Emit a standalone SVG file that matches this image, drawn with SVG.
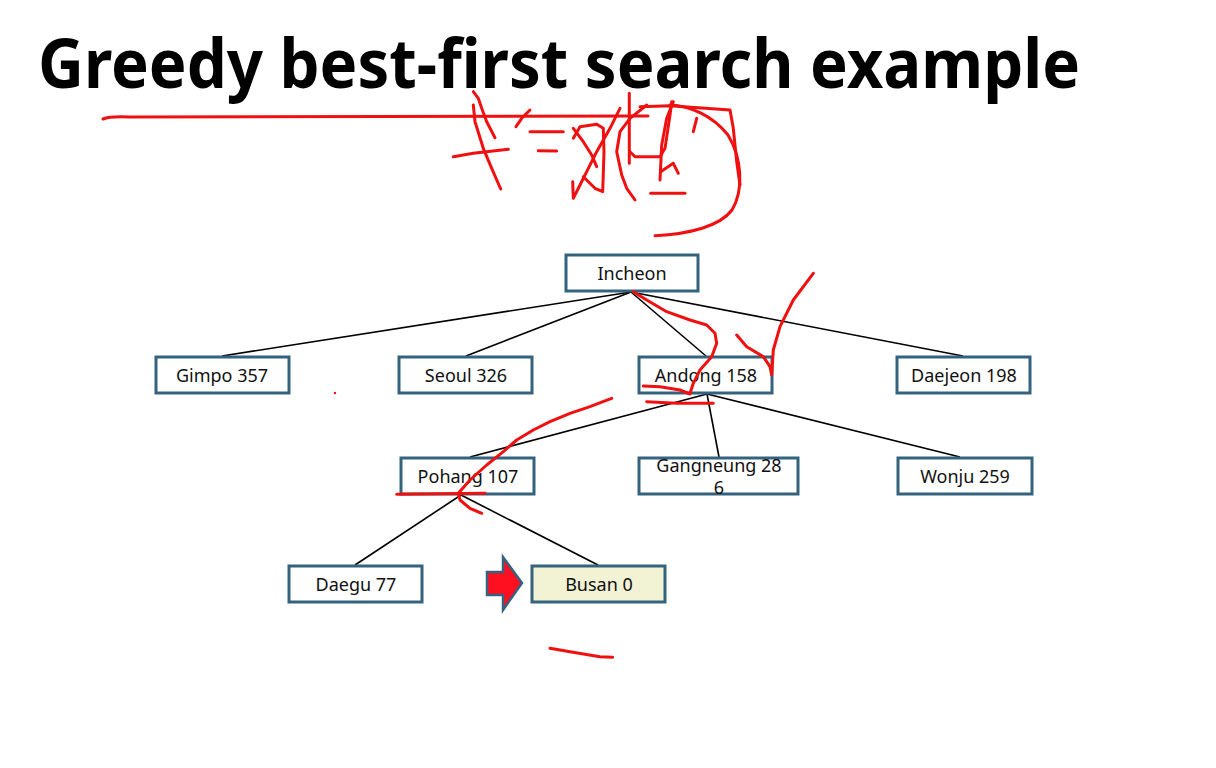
<svg xmlns="http://www.w3.org/2000/svg" width="1216" height="768" viewBox="0 0 1216 768">
  <style>
    .box { fill: #ffffff; stroke: #35627f; stroke-width: 3; }
    .goal { fill: #f2f2d4; }
    .lbl { font-family: "Noto Sans", "Liberation Sans", sans-serif; font-size: 18px; fill: #111; text-anchor: middle; }
    .edge { stroke: #000; stroke-width: 1.6; fill: none; }
    .ink { stroke: #f01010; stroke-width: 3; fill: none; stroke-linecap: round; stroke-linejoin: round; }
  </style>
  <rect width="1216" height="768" fill="#ffffff"/>

  <text x="38" y="88" font-family="'Noto Sans', 'Liberation Sans', sans-serif" font-weight="bold" font-size="68" textLength="1042" lengthAdjust="spacingAndGlyphs" fill="#000">Greedy best-first search example</text>

  <g id="connectors">
    <line class="edge" x1="631" y1="292" x2="222" y2="356"/>
    <line class="edge" x1="631" y1="292" x2="466" y2="356"/>
    <line class="edge" x1="631" y1="292" x2="706" y2="356"/>
    <line class="edge" x1="631" y1="292" x2="963" y2="356"/>
    <line class="edge" x1="707" y1="394" x2="470" y2="457"/>
    <line class="edge" x1="707" y1="394" x2="719" y2="457"/>
    <line class="edge" x1="707" y1="394" x2="960" y2="457"/>
    <line class="edge" x1="461" y1="495" x2="355" y2="565"/>
    <line class="edge" x1="461" y1="495" x2="598" y2="565"/>
  </g>

  <g id="incheon"><rect class="box" x="566" y="255" width="132" height="36"/><text class="lbl" x="632" y="280">Incheon</text></g>
  <g id="gimpo"><rect class="box" x="156" y="357" width="133" height="36"/><text class="lbl" x="222" y="382">Gimpo 357</text></g>
  <g id="seoul"><rect class="box" x="399" y="357" width="133" height="36"/><text class="lbl" x="466" y="382">Seoul 326</text></g>
  <g id="andong"><rect class="box" x="639" y="357" width="133" height="36"/><text class="lbl" x="706" y="382">Andong 158</text></g>
  <g id="daejeon"><rect class="box" x="897" y="357" width="133" height="36"/><text class="lbl" x="964" y="382">Daejeon 198</text></g>
  <g id="pohang"><rect class="box" x="401" y="458" width="133" height="36"/><text class="lbl" x="468" y="483">Pohang 107</text></g>
  <g id="gangneung"><rect class="box" x="639" y="458" width="159" height="36"/><text class="lbl" x="719" y="472">Gangneung 28</text><text class="lbl" x="719" y="494">6</text></g>
  <g id="wonju"><rect class="box" x="898" y="458" width="134" height="36"/><text class="lbl" x="965" y="483">Wonju 259</text></g>
  <g id="daegu"><rect class="box" x="289" y="566" width="133" height="36"/><text class="lbl" x="356" y="591">Daegu 77</text></g>
  <g id="busan"><rect class="box goal" x="532" y="566" width="133" height="36"/><text class="lbl" x="599" y="591">Busan 0</text></g>

  <g id="pointer">
    <polygon points="487,572 503,572 503,557 522,583 503,610 503,595 487,595" fill="#ff1020" stroke="#35627f" stroke-width="2.5" stroke-linejoin="miter"/>
  </g>

  <!-- freehand pen marks -->
  <g id="pen">
    <path class="ink" stroke-width="2.5" d="M103,119 Q110,116 130,117 L648,116"/>
    <path class="ink" d="M473.3,91.7 L478.3,98.3 L481.7,108.3 L486.7,121.7 L495,137.7"/>
    <path class="ink" d="M473.3,105 L475,121.7 L483.3,148.3 L491.7,168.3 L500.7,189"/>
    <path class="ink" d="M453.3,156.7 L473.3,153.3 L508.3,149.3"/>
    <path class="ink" d="M516,126.7 L521.7,118.3 L530,110"/>
    <path class="ink" d="M530,131.7 L563.3,131.7"/>
    <path class="ink" d="M538.3,150.7 L556.7,151"/>
    <path class="ink" d="M573.3,138.3 L580,126.7 L596.7,124.3 L603.3,128.3 L604,151.7 L602.7,191.7 L595,188.3 L583.3,176.7"/>
    <path class="ink" d="M573.3,128.3 L583.3,141.7 L591.7,155 L596.7,166.7"/>
    <path class="ink" d="M620,108.3 L610,128.3 L596.7,151.7 L586.7,171.7 L580,185 L573.3,198.3 L572.7,181.7"/>
    <path class="ink" d="M646.7,105 L630,118.3 L620,131.7 L616.7,151.7 L621.7,175 L626.7,188.3 L635,200"/>
    <path class="ink" d="M629.3,93.3 L629.3,163.3"/>
    <path class="ink" d="M630,151.7 L635,156.7 L660,156.7 L665,148.3 L670,115 L671.7,101.7"/>
    <path class="ink" d="M640,106.7 L670,105.7 L730,110 L733.3,128.3 L736.7,161.7 L740,185"/>
    <path class="ink" d="M670,105 C690,106 712,115 728,135 C742,158 744,190 732,210 C720,226 690,234 655,235.7"/>
    <path class="ink" d="M673.3,101.7 L666.7,118.3 L661.7,145 L660,180"/>
    <path class="ink" d="M660.7,171.7 L673.3,163.3 L678.3,173.3"/>
    <path class="ink" d="M696.7,118.3 L693.3,131.7"/>
    <path class="ink" d="M650.7,193.3 L685,193.3"/>

    <path class="ink" d="M633.3,291.7 L646.7,300 L666.7,311.7 L690,320 L706.7,325 L715,333.3 L716.7,343.3 L711.7,356.7 L700,370 L693.3,383.3 L690,393.3"/>
    <path class="ink" d="M736.7,335 L746.7,346.7 L763.3,356.7 L770,366.7 L771.7,375 L773.3,350 L780,326.7 L793.3,300 L813.3,273.3"/>
    <path class="ink" d="M643.3,386 L660,386.7 L680,390 L690,394"/>
    <path class="ink" d="M646.7,401.7 L676.7,403.3 L713.3,403.3"/>
    <path class="ink" d="M611.7,398.3 L603,401.7 L590,406.7 L570,413.3 L550,421.7 L533.3,430 L516.7,440 L503.3,451.7 L486.7,465 L470,480 L458.3,493.3 L460,500 L470,508.3 L481.7,513.3"/>
    <path class="ink" d="M396.7,494.3 L485,493.3" stroke="#d81c24"/>
    <circle cx="335" cy="393" r="1.2" fill="#f01010"/>
    <path class="ink" d="M550,648.3 L570,651.7 L600,656.7 L612.7,657.3"/>
  </g>
</svg>
